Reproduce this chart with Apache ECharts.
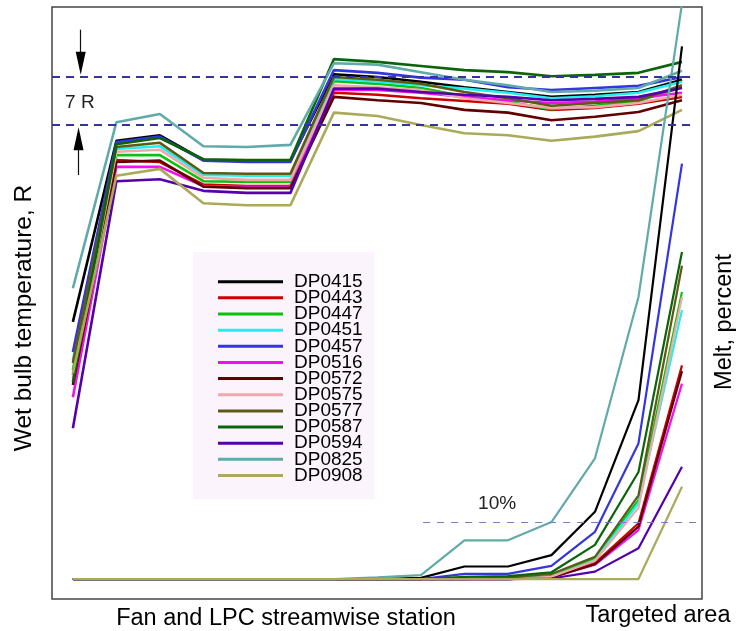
<!DOCTYPE html>
<html>
<head>
<meta charset="utf-8">
<script src="https://cdn.jsdelivr.net/npm/echarts@6/dist/echarts.min.js"></script>
<style>
html,body{margin:0;padding:0;background:#fff;}
#chart{width:737px;height:631px;}
</style>
</head>
<body>
<div id="chart"></div>
<script>
// Streamwise stations (index along the fan / LPC path; last = targeted area)
const stations = [0,1,2,3,4,5,6,7,8,9,10,11,12,13,14];

const names = ['DP0415','DP0443','DP0447','DP0451','DP0457','DP0516','DP0572',
               'DP0575','DP0577','DP0587','DP0594','DP0825','DP0908'];
const colors = ['#000000','#cc0000','#10c010','#22eeee','#3535e0','#f010f0','#600000',
                '#f0a8a8','#5c5a14','#0a640a','#5500aa','#60aaaa','#aaaa5a'];

// Wet bulb temperature, R (arbitrary offset; 7 R band between 70 and 77)
const tempDP0415 = [41.3,67.7,68.5,64.9,64.8,64.8,77.4,77.0,76.3,75.5,74.8,74.1,74.4,74.8,76.6];
const tempDP0443 = [33.5,64.9,64.6,61.3,61.1,61.1,74.7,74.4,73.9,73.5,73.1,72.2,72.5,73.1,74.1];
const tempDP0447 = [34.3,65.6,65.6,61.8,61.7,61.7,76.4,76.0,75.4,74.2,73.4,72.3,72.8,73.5,75.5];
const tempDP0451 = [35.7,66.5,66.9,62.7,62.6,62.6,76.7,76.3,75.8,75.3,74.7,73.9,74.2,74.7,76.3];
const tempDP0457 = [36.9,67.5,68.3,64.8,64.6,64.6,78.0,77.6,76.9,76.6,75.5,75.1,75.4,75.7,77.0];
const tempDP0516 = [30.3,63.9,63.9,61.1,61.0,61.0,75.1,75.1,74.7,74.1,73.6,73.2,73.4,73.9,74.7];
const tempDP0572 = [32.1,64.6,64.8,61.0,60.8,60.8,74.1,73.6,73.2,72.2,71.8,70.7,71.2,71.9,73.6];
const tempDP0575 = [33.1,66.1,66.4,62.3,62.0,62.0,75.8,75.5,75.1,73.9,73.2,72.5,72.6,73.2,74.4];
const tempDP0577 = [35.3,66.8,67.4,63.0,62.9,62.9,77.0,76.6,76.0,74.8,73.9,72.8,73.2,73.6,75.8];
const tempDP0587 = [32.5,67.2,68.1,65.0,64.9,64.9,79.6,79.2,78.6,78.0,77.7,77.1,77.3,77.6,79.2];
const tempDP0594 = [25.8,61.8,62.1,60.4,60.1,60.1,75.3,75.3,74.8,74.4,74.1,73.6,73.8,74.1,75.4];
const tempDP0825 = [46.2,70.4,71.6,66.9,66.8,67.1,79.0,78.8,77.7,76.6,75.8,74.8,75.0,75.4,77.9];
const tempDP0908 = [33.8,62.6,63.6,58.6,58.3,58.3,71.8,71.3,70.0,68.8,68.5,67.7,68.3,69.1,72.2];

// Melt, percent
const meltDP0415 = [0,0,0,0,0,0,0,0,0.2,2.2,2.2,4.2,11.8,31.4,93.5];
const meltDP0443 = [0,0,0,0,0,0,0,0,0,0,0,0.3,2.8,9.8,37.5];
const meltDP0447 = [0,0,0,0,0,0,0,0,0,0,0.2,0.5,3.7,13.9,50.4];
const meltDP0451 = [0,0,0,0,0,0,0,0,0,0,0,0.4,3.3,13.3,47.2];
const meltDP0457 = [0,0,0,0,0,0,0,0,0,0.9,0.9,2.3,8.3,23.8,72.9];
const meltDP0516 = [0,0,0,0,0,0,0,0,0,0,0,0.3,2.5,8.6,34.3];
const meltDP0572 = [0,0,0,0,0,0,0,0,0,0,0,0.3,2.6,9.2,36.5];
const meltDP0575 = [0,0,0,0,0,0,0,0,0,0,0,0.4,3.2,12.5,49.5];
const meltDP0577 = [0,0,0,0,0,0,0,0,0,0,0.3,0.9,3.9,14.7,55.0];
const meltDP0587 = [0,0,0,0,0,0,0,0,0,0.4,0.5,1.2,6.0,18.8,57.4];
const meltDP0594 = [0,0,0,0,0,0,0,0,0,0,0,0.1,1.3,5.4,19.7];
const meltDP0825 = [0,0,0,0,0,0,0,0.3,0.7,6.8,6.8,10.0,21.2,49.5,101];
const meltDP0908 = [0,0,0,0,0,0,0,0,0,0,0,0,0,0,16.2];

const tempBand = [70, 77];   // 7 R band
const meltRef = 10;          // 10 % reference

const temps = [tempDP0415,tempDP0443,tempDP0447,tempDP0451,tempDP0457,tempDP0516,tempDP0572,
               tempDP0575,tempDP0577,tempDP0587,tempDP0594,tempDP0825,tempDP0908];
const melts = [meltDP0415,meltDP0443,meltDP0447,meltDP0451,meltDP0457,meltDP0516,meltDP0572,
               meltDP0575,meltDP0577,meltDP0587,meltDP0594,meltDP0825,meltDP0908];

const FONT = 'Liberation Sans, Arial, sans-serif';
const series = [];
names.forEach((n, i) => {
  series.push({
    name: n, type: 'line', xAxisIndex: 0, yAxisIndex: 0,
    data: stations.map((s, j) => [s, temps[i][j]]),
    showSymbol: false, symbol: 'none', smooth: false,
    lineStyle: { color: colors[i], width: 2.6 }, itemStyle: { color: colors[i] }
  });
});
names.forEach((n, i) => {
  series.push({
    name: n, type: 'line', xAxisIndex: 0, yAxisIndex: 1,
    data: stations.map((s, j) => [s, melts[i][j]]),
    showSymbol: false, symbol: 'none', smooth: false,
    lineStyle: { color: colors[i], width: 2.2 }, itemStyle: { color: colors[i] }
  });
});
// annotations: 7 R band
series.push({
  type: 'line', xAxisIndex: 0, yAxisIndex: 0, data: [], z: 10, silent: true,
  markLine: {
    silent: true, symbol: 'none', label: { show: false },
    lineStyle: { color: '#34349c', width: 2, type: [8, 6] },
    data: [
      [{ xAxis: -0.48, yAxis: tempBand[1] }, { xAxis: 14.3, yAxis: tempBand[1] }],
      [{ xAxis: -0.48, yAxis: tempBand[0] }, { xAxis: 14.3, yAxis: tempBand[0] }],
      [{ xAxis: 0.18, yAxis: 83.9, lineStyle: { color: '#111', width: 1.2, type: 'solid' } },
       { xAxis: 0.18, yAxis: 78.5 }],
      [{ xAxis: 0.13, yAxis: 62.7, lineStyle: { color: '#111', width: 1.2, type: 'solid' } },
       { xAxis: 0.13, yAxis: 68.5 }]
    ]
  },
  markPoint: {
    silent: true,
    data: [
      { coord: [0.18, 79.0], symbol: 'triangle', symbolSize: [10, 23], symbolRotate: 180,
        itemStyle: { color: '#000' }, label: { show: false } },
      { coord: [0.13, 68.0], symbol: 'triangle', symbolSize: [10, 23],
        itemStyle: { color: '#000' }, label: { show: false } },
      { coord: [0.16, 73.2], symbol: 'rect', symbolSize: 1, itemStyle: { color: 'rgba(0,0,0,0)' },
        label: { show: true, position: 'inside', formatter: '7 R', fontSize: 19,
                 fontFamily: FONT, color: '#222' } }
    ]
  }
});
// annotations: 10 % line
series.push({
  type: 'line', xAxisIndex: 0, yAxisIndex: 1, data: [], z: 10, silent: true,
  markLine: {
    silent: true, symbol: 'none', label: { show: false },
    lineStyle: { color: '#7c7cc0', width: 1, type: [7, 7] },
    data: [[{ xAxis: 8.05, yAxis: meltRef }, { xAxis: 14.46, yAxis: meltRef }]]
  },
  markPoint: {
    silent: true,
    data: [
      { coord: [9.75, 13.3], symbol: 'rect', symbolSize: 1, itemStyle: { color: 'rgba(0,0,0,0)' },
        label: { show: true, position: 'inside', formatter: '10%', fontSize: 19,
                 fontFamily: FONT, color: '#222' } }
    ]
  }
});

const chart = echarts.init(document.getElementById('chart'), null, { renderer: 'canvas' });
chart.setOption({
  animation: false,
  backgroundColor: '#ffffff',
  grid: { left: 52, top: 7, right: 35, bottom: 32, show: true,
          borderColor: '#444', borderWidth: 1.5, backgroundColor: 'transparent' },
  xAxis: { type: 'value', min: -0.48, max: 14.46,
           axisLine: { show: false }, axisTick: { show: false },
           axisLabel: { show: false }, splitLine: { show: false } },
  yAxis: [
    { type: 'value', min: 0.9, max: 87.2, axisLine: { show: false }, axisTick: { show: false },
      axisLabel: { show: false }, splitLine: { show: false } },
    { type: 'value', min: -3.5, max: 100.4, position: 'right',
      axisLine: { show: false }, axisTick: { show: false },
      axisLabel: { show: false }, splitLine: { show: false } }
  ],
  legend: {
    data: names, orient: 'vertical', left: 193, top: 252,
    padding: [20.2, 12, 14.3, 25], itemWidth: 65, itemHeight: 3, itemGap: -2.85,
    icon: 'rect', selectedMode: false, backgroundColor: '#fcf4fc',
    textStyle: { fontSize: 19, fontFamily: FONT, color: '#000',
                 padding: [0, 0, 0, 6] }
  },
  graphic: [
    { type: 'text', x: 24, y: 318, rotation: Math.PI / 2,
      style: { text: 'Wet bulb temperature, R', fontSize: 24.5, fontFamily: FONT, fill: '#000',
               align: 'center', verticalAlign: 'middle' } },
    { type: 'text', x: 725, y: 322, rotation: Math.PI / 2,
      style: { text: 'Melt, percent', fontSize: 23.5, fontFamily: FONT, fill: '#000',
               align: 'center', verticalAlign: 'middle' } },
    { type: 'text', x: 286, y: 619,
      style: { text: 'Fan and LPC streamwise station', fontSize: 23.5, fontFamily: FONT, fill: '#000',
               align: 'center', verticalAlign: 'middle' } },
    { type: 'text', x: 658, y: 616,
      style: { text: 'Targeted area', fontSize: 23.5, fontFamily: FONT, fill: '#000',
               align: 'center', verticalAlign: 'middle' } }
  ],
  series: series
});
</script>
</body>
</html>
